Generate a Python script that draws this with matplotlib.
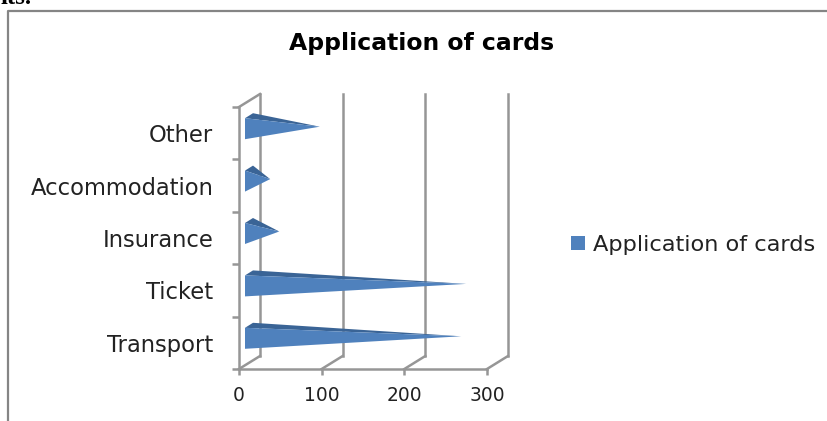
import matplotlib
matplotlib.use("Agg")
import matplotlib.pyplot as plt
from matplotlib.patches import Patch, Polygon
from matplotlib.lines import Line2D

categories = ["Transport", "Ticket", "Insurance", "Accommodation", "Other"]
values = [256, 262, 36, 25, 85]
x_ticks = [0, 100, 200, 300]
series_name = "Application of cards"
title = "Application of cards"

W, H = 828, 421
GREY = "#969696"
FACE = "#4F81BD"
DARK = "#3A6496"
LW = 1.8

fig = plt.figure(figsize=(W / 100, H / 100), dpi=100, facecolor="white")
ax = fig.add_axes([239 / W, (H - 369) / H, 248 / W, 262 / H])
ax.set_xlim(0, 300)
ax.set_ylim(0, len(categories))
ax.patch.set_visible(False)
for s in ax.spines.values():
    s.set_visible(False)

# pixel-to-data helpers for the pseudo 3-D depth
px_x = 300 / 248
px_y = len(categories) / 262
depth_x, depth_y = 21 * px_x, 13 * px_y

# front walls and floor
ax.plot([0, 0], [0, 5], color=GREY, lw=LW, clip_on=False, zorder=2)
ax.plot([0, 300], [0, 0], color=GREY, lw=LW, clip_on=False, zorder=2)
ax.plot([0, depth_x], [5, 5 + depth_y], color=GREY, lw=LW, clip_on=False, zorder=2)
# back gridlines and floor diagonals
for t in x_ticks:
    ax.plot([t + depth_x, t + depth_x], [depth_y, 5 + depth_y], color=GREY, lw=LW,
            clip_on=False, zorder=1)
    ax.plot([t, t + depth_x], [0, depth_y], color=GREY, lw=LW, clip_on=False, zorder=1)

# cones
for i, v in enumerate(values):
    cy = i + 0.5
    x_base = 6 * px_x
    tip = (v + depth_x / 2, cy + depth_y / 2)
    top = (x_base, cy + 15 * px_y)
    bot = (x_base, cy - 6 * px_y)
    apex = (x_base + 8 * px_x, cy + 20 * px_y)
    ax.add_patch(Polygon([top, apex, tip], closed=True, fc=DARK, ec="none", zorder=3, clip_on=False))
    ax.add_patch(Polygon([top, bot, tip], closed=True, fc=FACE, ec="none", zorder=4, clip_on=False))

ax.set_xticks(x_ticks)
ax.set_xticklabels([str(t) for t in x_ticks], fontsize=13.4, color="#222222")
ax.tick_params(axis="x", length=4.5, width=LW, color=GREY, pad=7.5)
ax.set_yticks(range(len(categories) + 1))
ax.set_yticklabels([])
ax.tick_params(axis="y", which="major", length=5, width=LW, color=GREY)
ax.set_yticks([i + 0.5 for i in range(len(categories))], minor=True)
ax.set_yticklabels(categories, minor=True, fontsize=16.3, color="#222222")
ax.tick_params(axis="y", which="minor", length=0, pad=18.5)

fig.text(422 / W, 1 - 43.5 / H, title, ha="center", va="center", fontsize=16.9,
         fontweight="bold", color="black")

fig.legend(handles=[Patch(fc=FACE, ec="none", label=series_name)],
           loc="center left", bbox_to_anchor=(566.5 / W, 1 - 245 / H), frameon=False,
           fontsize=16.2, handlelength=0.63, handleheight=0.63, handletextpad=0.33,
           labelcolor="#222222", borderpad=0.2, borderaxespad=0)

# chart frame
fig.add_artist(Line2D([8 / W, 8 / W, 1], [0, 1 - 11 / H, 1 - 11 / H], color="#858585", lw=1.6))
# clipped scrap of the document text above the chart
fig.text(1 / W, 1 - 4 / H, "its.", ha="left", va="baseline", family="Liberation Serif",
         fontsize=18, fontweight="bold", color="black")

fig.savefig("out.png", dpi=100)
